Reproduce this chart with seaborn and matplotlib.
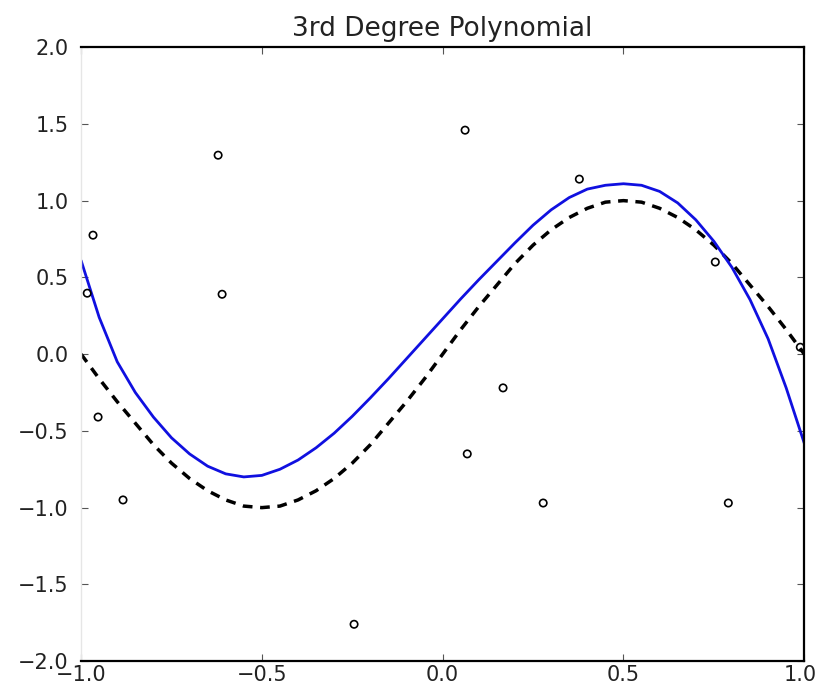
import numpy as np
import pandas as pd
import matplotlib
matplotlib.use("Agg")
import matplotlib.pyplot as plt
import matplotlib.transforms as mtransforms
import seaborn as sns

# noisy samples
pts_x = [-0.967, -0.621, -0.983, -0.610, -0.953, -0.884, -0.245, 0.062,
         0.167, 0.068, 0.278, 0.378, 0.754, 0.989, 0.790]
pts_y = [0.775, 1.296, 0.397, 0.390, -0.410, -0.950, -1.760, 1.459,
         -0.220, -0.650, -0.970, 1.140, 0.600, 0.045, -0.970]

# curve grid
grid_x = [-1.00, -0.95, -0.90, -0.85, -0.80, -0.75, -0.70, -0.65, -0.60, -0.55,
          -0.50, -0.45, -0.40, -0.35, -0.30, -0.25, -0.20, -0.15, -0.10, -0.05,
          0.00, 0.05, 0.10, 0.15, 0.20, 0.25, 0.30, 0.35, 0.40, 0.45,
          0.50, 0.55, 0.60, 0.65, 0.70, 0.75, 0.80, 0.85, 0.90, 0.95, 1.00]

# true function (dashed black)
true_y = [0.00, -0.16, -0.31, -0.45, -0.59, -0.71, -0.81, -0.89, -0.95, -0.99,
          -1.00, -0.99, -0.95, -0.89, -0.81, -0.71, -0.59, -0.45, -0.31, -0.16,
          0.00, 0.16, 0.31, 0.45, 0.59, 0.71, 0.81, 0.89, 0.95, 0.99,
          1.00, 0.99, 0.95, 0.89, 0.81, 0.71, 0.59, 0.45, 0.31, 0.16, 0.00]

# 3rd degree fit (blue)
fit_y = [0.61, 0.24, -0.05, -0.25, -0.41, -0.545, -0.65, -0.73, -0.78, -0.80,
         -0.79, -0.75, -0.69, -0.61, -0.515, -0.405, -0.285, -0.16, -0.03, 0.10,
         0.23, 0.36, 0.485, 0.605, 0.725, 0.84, 0.94, 1.02, 1.075, 1.10,
         1.11, 1.10, 1.06, 0.985, 0.875, 0.735, 0.565, 0.355, 0.10, -0.22, -0.58]

pts_df = pd.DataFrame({"x": pts_x, "y": pts_y})
curve_df = pd.DataFrame({"x": grid_x, "true": true_y, "fit": fit_y})

sns.set_style("white")
plt.rcParams["font.family"] = ["DejaVu Sans"]

fig = plt.figure(figsize=(8.19, 6.93), dpi=100)
ax = fig.add_axes([0.099, 0.046, 0.883, 0.886])

sns.lineplot(data=curve_df, x="x", y="true", ax=ax, color="black", lw=2.5,
             linestyle=(0, (2.8, 2.2)), estimator=None, sort=False)
sns.lineplot(data=curve_df, x="x", y="fit", ax=ax, color="#1010e0", lw=2.0,
             estimator=None, sort=False)
sns.scatterplot(data=pts_df, x="x", y="y", ax=ax, s=28, facecolor="none",
                edgecolor="black", linewidth=1.2, zorder=3)

ax.set_xlim(-1, 1)
ax.set_ylim(-2, 2)
ax.set_xticks([-1.0, -0.5, 0.0, 0.5, 1.0])
ax.set_yticks([-2.0, -1.5, -1.0, -0.5, 0.0, 0.5, 1.0, 1.5, 2.0])
ax.set_xticklabels(["\u22121.0", "\u22120.5", "0.0", "0.5", "1.0"])
ax.set_yticklabels(["\u22122.0", "\u22121.5", "\u22121.0", "\u22120.5", "0.0",
                    "0.5", "1.0", "1.5", "2.0"])
ax.set_xlabel("")
ax.set_ylabel("")
ax.tick_params(direction="in", length=5, width=0.8, color="#555555",
               labelsize=15, labelcolor="#222222", top=True, right=True,
               bottom=True, left=True)
ax.tick_params(axis="x", pad=3)
ax.tick_params(axis="y", pad=9)

# keep the last x label inside the canvas
last = ax.get_xticklabels()[-1]
last.set_transform(last.get_transform() +
                   mtransforms.ScaledTranslation(-4 / 100, 0, fig.dpi_scale_trans))

for side in ["top", "bottom", "right"]:
    ax.spines[side].set_color("black")
    ax.spines[side].set_linewidth(1.6)
ax.spines["left"].set_color("#e6e6e6")
ax.spines["left"].set_linewidth(1.0)

ax.set_title("3rd Degree Polynomial", fontsize=19, color="#222222", pad=8)

fig.savefig("out.png", dpi=100)
